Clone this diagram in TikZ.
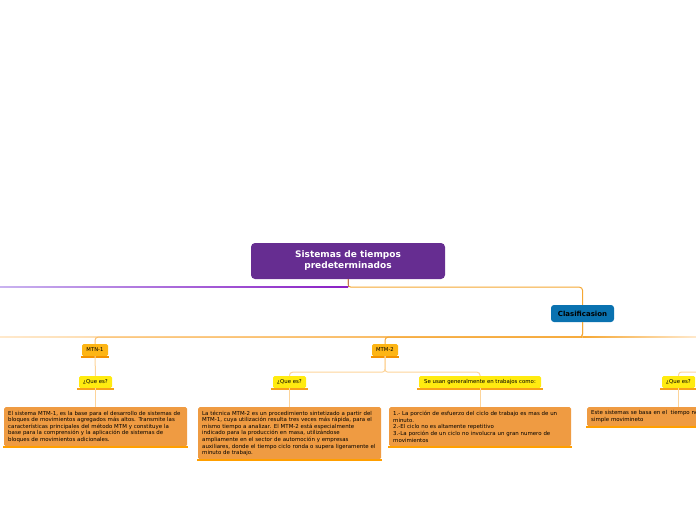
\documentclass[tikz,border=0pt]{standalone}
\usepackage{fontspec}
\setmainfont{DejaVu Sans}
\definecolor{cPurple}{HTML}{662D91}
\definecolor{cBlue}{HTML}{0A72B0}
\definecolor{cMTM}{HTML}{FDB515}
\definecolor{cMTMbar}{HTML}{F39200}
\definecolor{cQue}{HTML}{FFEB10}
\definecolor{cQuebar}{HTML}{F7A11A}
\definecolor{cText}{HTML}{EF9B42}
\definecolor{cTextbar}{HTML}{FF9F00}
\definecolor{cOrange}{HTML}{F5A733}
\definecolor{cMid}{HTML}{FBBE6A}
\definecolor{cLight}{HTML}{FDD49A}
\definecolor{cFade}{HTML}{FFE9CC}
\definecolor{cLav}{HTML}{C9B3F0}
\definecolor{cPline}{HTML}{8A1FC4}
\tikzset{
  mainbox/.style={fill=cPurple, rounded corners=4pt, minimum width=194pt, minimum height=36pt,
    text=white, font=\bfseries\fontsize{9}{11}\selectfont, align=center, inner sep=0pt},
  clasbox/.style={fill=cBlue, rounded corners=3pt, minimum width=63pt, minimum height=17pt,
    font=\bfseries\fontsize{7}{8}\selectfont, inner sep=0pt},
  mtmbox/.style={fill=cMTM, rounded corners=1.5pt, minimum width=26pt, minimum height=12pt,
    font=\fontsize{5.3}{6}\selectfont, inner sep=0pt},
  quebox/.style={fill=cQue, rounded corners=1.5pt, minimum width=33pt, minimum height=12pt,
    font=\fontsize{5.4}{6}\selectfont, inner sep=0pt},
  textbox/.style={fill=cText, rounded corners=1.5pt, align=left, inner xsep=4pt, inner ysep=0pt,
    font=\fontsize{5.45}{6.6}\selectfont, anchor=north west},
  conn/.style={draw=cOrange, line width=1pt, rounded corners=3pt},
  lconn/.style={draw=cLight, line width=1pt, rounded corners=3pt},
}
\begin{document}
\begin{tikzpicture}[x=1pt,y=-1pt]
\useasboundingbox (0,0) rectangle (696,520);
\clip (0,0) rectangle (696,520);

% nodes
\node[mainbox] (main) at (348,261) {Sistemas de tiempos\\ predeterminados};
\node[clasbox] (clas) at (582.5,313.5) {Clasificasion};
\node[mtmbox] (mtm1) at (95,350) {MTN-1};
\node[mtmbox] (mtm2) at (385,350) {MTM-2};
\node[quebox] (que1) at (95.5,382) {¿Que es?};
\node[quebox] (que2) at (289.5,382) {¿Que es?};
\node[quebox, minimum width=122pt] (usan) at (480,382) {Se usan generalmente en trabajos como:};
\node[quebox] (que3) at (678.5,382) {¿Que es?};

\node[textbox, text width=175pt, minimum height=39pt] (t1) at (4,407) {El sistema MTM-1, es la base para el desarrollo de sistemas de\\
bloques de movimientos agregados más altos. Transmite las\\
características principales del método MTM y constituye la\\
base para la comprensión y la aplicación de sistemas de\\
bloques de movimientos adicionales.};
\node[textbox, text width=175pt, minimum height=52pt] (t2) at (198,407) {La técnica MTM-2 es un procedimiento sintetizado a partir del\\
MTM-1, cuya utilización resulta tres veces más rápida, para el\\
mismo tiempo a analizar. El MTM-2 está especialmente\\
indicado para la producción en masa, utilizándose\\
ampliamente en el sector de automoción y empresas\\
auxiliares, donde el tiempo ciclo ronda o supera ligeramente el\\
minuto de trabajo.};
\node[textbox, text width=174pt, minimum height=39pt] (t3) at (389,407) {1.- La porción de esfuerzo del ciclo de trabajo es mas de un\\
minuto.\\
2.-El ciclo no es altamente repetitivo\\
3.-La porción de un ciclo no involucra un gran numero de\\
movimientos};
\node[textbox, text width=192pt, minimum height=19pt] (t4) at (587,407) {Este sistemas se basa en el\ \ tiempo ne\\
simple movimineto};

% bars under nodes
\foreach \n/\c/\e in {mtm1/cMTMbar/1pt, mtm2/cMTMbar/1pt, que1/cQuebar/1.5pt, que2/cQuebar/1.5pt, usan/cQuebar/1.5pt, que3/cQuebar/1.5pt, t1/cTextbar/1pt, t2/cTextbar/1pt, t3/cTextbar/1pt, t4/cTextbar/1pt}
  \draw[\c, line width=2pt] ([shift={(-\e,-1pt)}]\n.south west) -- ([shift={(\e,-1pt)}]\n.south east);

% top-level lines
\coordinate (pleft) at (0,287);
\shade[left color=cLav, right color=cPline] (pleft) ++(0,-0.7) rectangle (348,287.7);
\draw[conn] (main.south) -- ++(0,8) -| (clas.north);
\draw[cOrange!60!cPurple, line width=1pt] (main.south) -- ++(0,8);

% second-level horizontal line
\shade[left color=cFade, right color=cOrange] (0,336.3) rectangle (582.5,337.7);
\shade[left color=cOrange, right color=cFade] (582.5,336.3) rectangle (696,337.7);
\draw[conn, draw=cMid] (clas.south) -- ++(0,15) -| (mtm1.north);
\draw[conn] (clas.south) -- ++(0,15) -| (mtm2.north);

% lower connectors
\coordinate (offright) at (720,372);
\draw[lconn] (mtm1.south) -- (que1.north);
\draw[lconn] (mtm2.south) -- ++(0,16) -| (que2.north);
\draw[lconn] (mtm2.south) -- ++(0,16) -| (usan.north);
\draw[lconn] (que3.north) |- (offright);
\draw[lconn] (que1.south) -- (t1.north -| que1.south);
\draw[lconn] (que2.south) -- (t2.north -| que2.south);
\draw[lconn] (usan.south) -- (t3.north -| usan.south);
\draw[lconn] (que3.south) -- (t4.north -| que3.south);
\end{tikzpicture}
\end{document}
